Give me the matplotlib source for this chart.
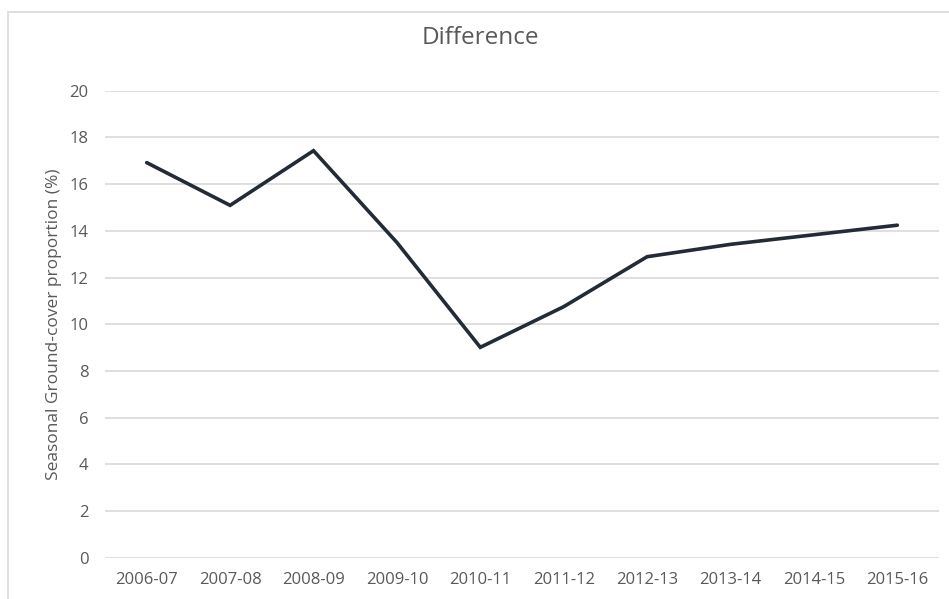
import matplotlib
matplotlib.use("Agg")
import matplotlib.pyplot as plt
from matplotlib.patches import Rectangle

seasons = ["2006-07", "2007-08", "2008-09", "2009-10", "2010-11",
           "2011-12", "2012-13", "2013-14", "2014-15", "2015-16"]
difference = [16.92, 15.09, 17.43, 13.5, 9.01, 10.75, 12.89, 13.42, 13.83, 14.24]
y_ticks = [0, 2, 4, 6, 8, 10, 12, 14, 16, 18, 20]

plt.rcParams['font.family'] = ['Open Sans', 'DejaVu Sans']

W, H = 949, 599
fig = plt.figure(figsize=(W / 100, H / 100), dpi=100)
fig.patches.append(Rectangle((8 / W, -0.1), 1.2, 1 - 12 / H + 0.1, transform=fig.transFigure,
                             fill=False, edgecolor='#d9d9d9', linewidth=1.2))

left, right = 105 / W, 939 / W
bottom, top = 1 - 557.7 / H, 1 - 90.7 / H
ax = fig.add_axes([left, bottom, right - left, top - bottom])

x = list(range(len(seasons)))
ax.plot(x, difference, color='#232b36', linewidth=2.6, solid_joinstyle='miter',
        solid_capstyle='round', zorder=3)

ax.set_xlim(-0.5, len(seasons) - 0.5)
ax.set_ylim(0, 20)
ax.set_yticks(y_ticks)
ax.set_xticks(x)
ax.set_xticklabels(seasons)
ax.grid(axis='y', color='#d9d9d9', linewidth=1.2)
ax.set_axisbelow(True)
for s in ax.spines.values():
    s.set_visible(False)
ax.tick_params(axis='both', length=0, colors='#595959', labelsize=12)
ax.tick_params(axis='y', pad=12)
ax.tick_params(axis='x', pad=10)

ax.set_ylabel("Seasonal Ground-cover proportion (%)", color='#595959', fontsize=12.5, labelpad=5)
fig.text(480 / W, 1 - 38 / H, "Difference", ha='center', va='center', color='#595959', fontsize=17.5)

fig.savefig("out.png", dpi=100, facecolor='white')
